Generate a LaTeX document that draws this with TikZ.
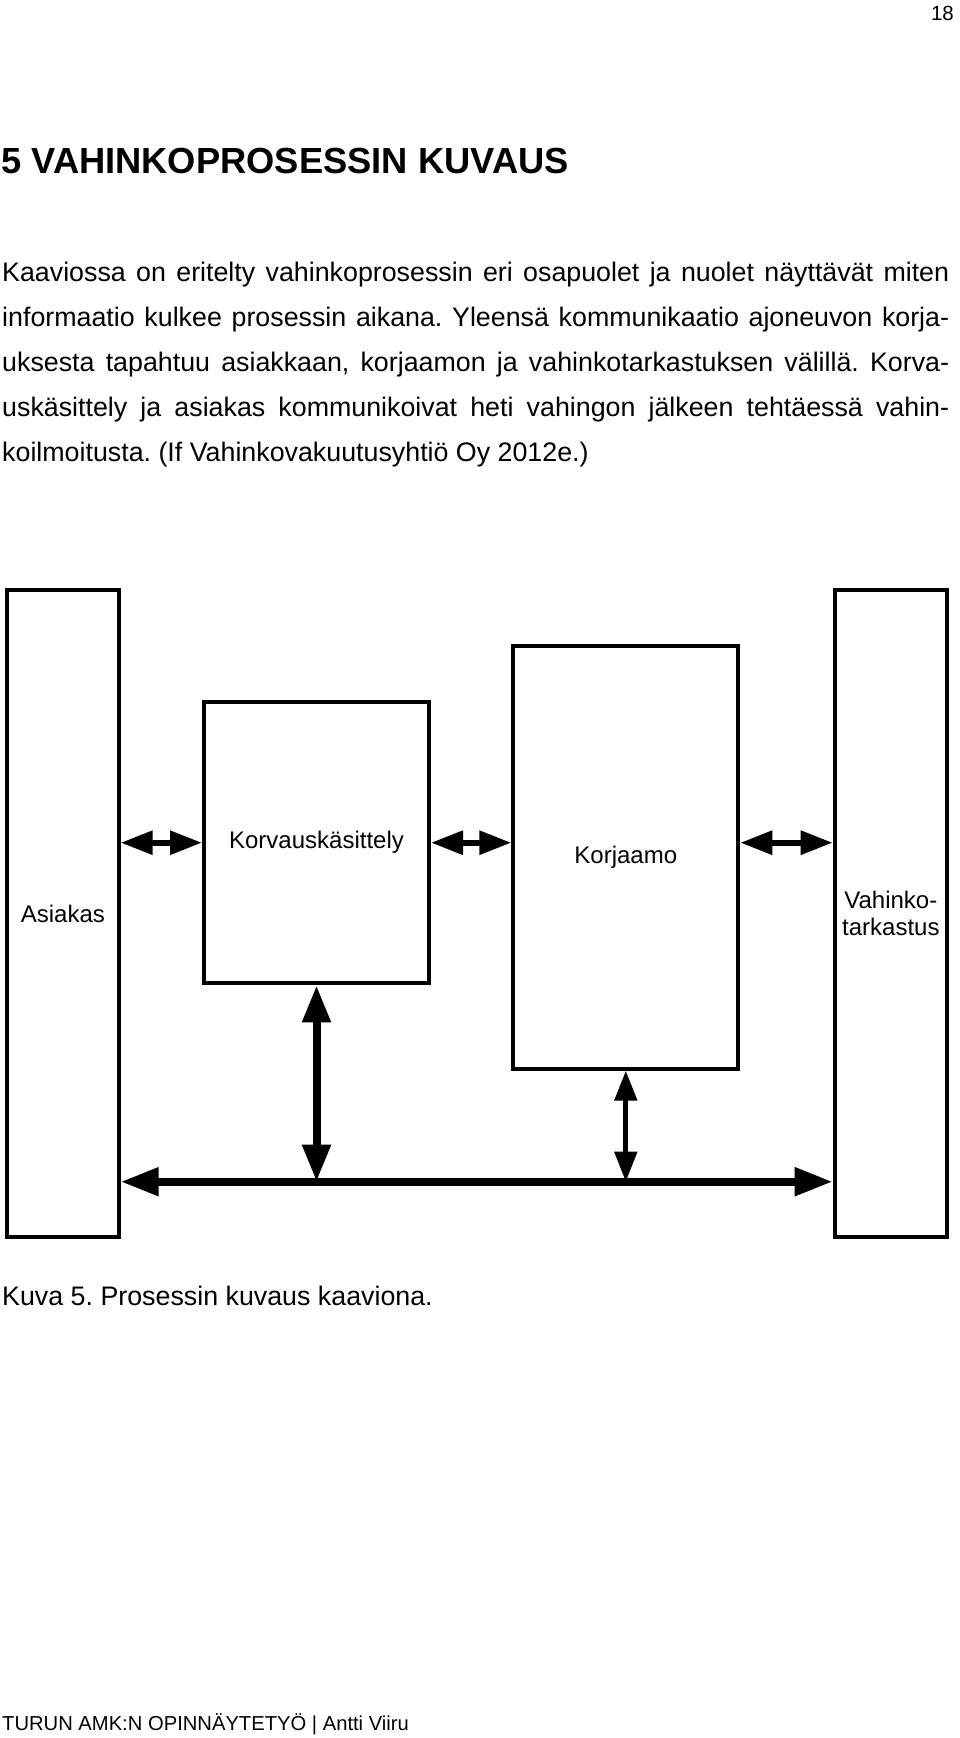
\documentclass[tikz,border=0pt]{standalone}
\usepackage{fontspec}
\setmainfont{Liberation Sans}
\usetikzlibrary{arrows.meta}
\begin{document}
\frenchspacing
\begin{tikzpicture}[x=1pt,y=-1pt,
  box/.style={draw, line width=4pt, rectangle, inner sep=0pt, align=center,
    font=\fontsize{24}{27}\selectfont},
  txt/.style={anchor=base west, inner sep=0pt, font=\fontsize{26.8}{45}\selectfont},
  arrtop/.style={line width=6pt, {Triangle[length=32pt,width=23pt]}-{Triangle[length=32pt,width=23pt]}},
  arrbus/.style={line width=8pt, {Triangle[length=38pt,width=27pt]}-{Triangle[length=38pt,width=27pt]}},
  arrvbig/.style={line width=8pt, {Triangle[length=37pt,width=27pt]}-{Triangle[length=37pt,width=27pt]}},
  arrvsmall/.style={line width=5pt, {Triangle[length=30pt,width=22pt]}-{Triangle[length=30pt,width=22pt]}}
]
\useasboundingbox (0,0) rectangle (960,1738);

% page number and heading
\node[anchor=base east, inner sep=0pt, font=\fontsize{20.5}{24}\selectfont] (pnum) at (954,20) {18};
\node[anchor=base west, inner sep=0pt, font=\fontsize{36.3}{40}\selectfont\bfseries] (title) at (1,173) {5 VAHINKOPROSESSIN KUVAUS};

% body paragraph
\node[txt] (l1) at (2,281) {\makebox[947pt][s]{Kaaviossa on eritelty vahinkoprosessin eri osapuolet ja nuolet näyttävät miten}};
\node[txt] (l2) at (2,326.2) {\makebox[947pt][s]{informaatio kulkee prosessin aikana. Yleensä kommunikaatio ajoneuvon korja-}};
\node[txt] (l3) at (2,371.4) {\makebox[947pt][s]{uksesta tapahtuu asiakkaan, korjaamon ja vahinkotarkastuksen välillä. Korva-}};
\node[txt] (l4) at (2,416.6) {\makebox[947pt][s]{uskäsittely ja asiakas kommunikoivat heti vahingon jälkeen tehtäessä vahin-}};
\node[txt] (l5) at (2,461.8) {koilmoitusta. (If Vahinkovakuutusyhtiö Oy 2012e.)};

% boxes
\node[box, minimum width=111.7pt, minimum height=647pt] (asiakas) at (62.85,913.5) {Asiakas};
\node[box, minimum width=225pt, minimum height=281.3pt] (korv) at (316.5,842.7) {Korvauskäsittely};
\node[box, minimum width=225pt, minimum height=422.7pt] (korj) at (625.8,857.3) {Korjaamo};
\node[box, minimum width=112.3pt, minimum height=647pt] (vahinko) at (890.85,913.5) {Vahinko-\\tarkastus};

% top arrows
\draw[arrtop] (asiakas.east |- korv.center) -- (korv.west);
\draw[arrtop] (korv.east) -- (korj.west |- korv.center);
\draw[arrtop] (korj.east |- korv.center) -- (vahinko.west |- korv.center);

% bottom bus
\coordinate (bus) at (0,1181.7);
\draw[arrbus] (asiakas.east |- bus) -- (vahinko.west |- bus);
\draw[arrvbig] (korv.south) -- (korv.south |- bus);
\draw[arrvsmall] (korj.south) -- (korj.south |- bus);

% caption and footer
\node[txt] (caption) at (2,1305) {Kuva 5. Prosessin kuvaus kaaviona.};
\node[anchor=base west, inner sep=0pt, font=\fontsize{20.2}{24}\selectfont] (footer) at (2,1730) {TURUN AMK:N OPINNÄYTETYÖ | Antti Viiru};
\end{tikzpicture}
\end{document}
